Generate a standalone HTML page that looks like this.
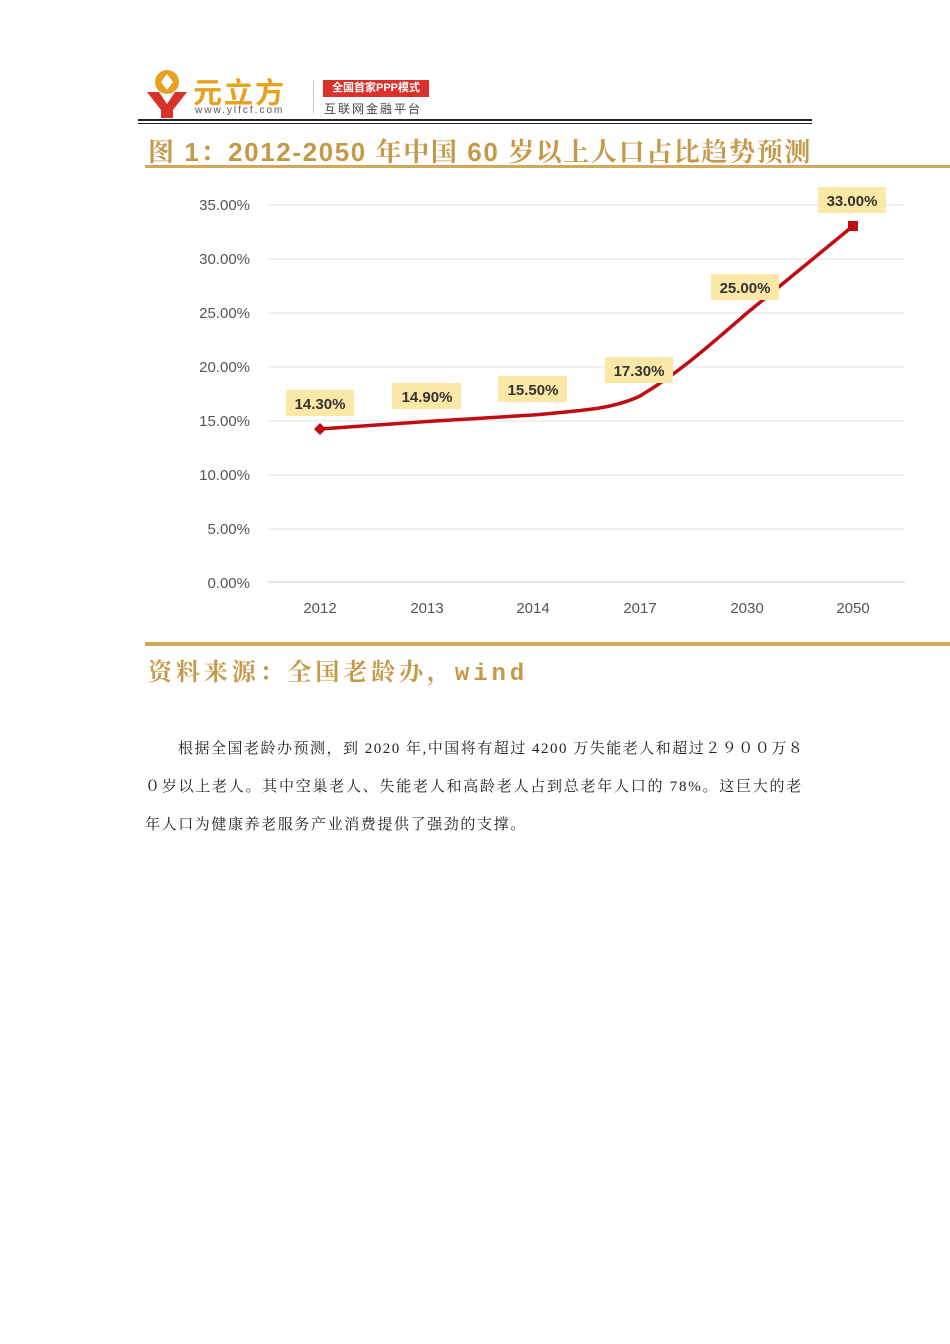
<!DOCTYPE html>
<html><head><meta charset="utf-8"><style>
body{margin:0;background:#fff;width:950px;height:1344px;position:relative;overflow:hidden;font-family:"Liberation Sans","Noto Sans CJK SC",sans-serif}
.a{position:absolute}
.p{position:absolute;left:145px;font-family:"Liberation Serif","Noto Serif CJK SC",serif;font-size:15px;color:#222;white-space:nowrap}
</style></head><body>
<!-- logo -->
<svg class="a" style="left:145px;top:68px" width="50" height="52" viewBox="0 0 50 52">
<circle cx="22" cy="14" r="12" fill="#e8a020"/><path d="M22 6 L28 14 L22 22 L16 14Z" fill="#fff"/>
<path d="M2 24 L14 24 L22 36 L30 24 L42 24 L28 42 L28 50 L16 50 L16 42Z" fill="#d9322a"/>
</svg>
<div class="a" style="left:193px;top:70px;font-size:29px;font-weight:bold;color:#e8a020;letter-spacing:2px">元立方</div>
<div class="a" style="left:195px;top:105px;font-size:10px;color:#555;letter-spacing:2px">www.ylfcf.com</div>
<div class="a" style="left:313px;top:80px;width:1px;height:34px;background:#ccc"></div>
<div class="a" style="left:323px;top:80px;width:106px;height:17px;background:#d9322a;color:#fff;font-size:11px;font-weight:bold;line-height:17px;text-align:center">全国首家PPP模式</div>
<div class="a" style="left:324px;top:100px;font-size:12px;color:#444;letter-spacing:2px">互联网金融平台</div>
<div class="a" style="left:138px;top:119px;width:674px;height:2px;background:#222"></div>
<div class="a" style="left:138px;top:123px;width:674px;height:1px;background:#222"></div>
<!-- title -->
<div class="a" style="left:148px;top:132px;font-size:26px;font-weight:bold;color:#c49a4a;font-family:'Liberation Sans','Noto Serif CJK SC',sans-serif;white-space:nowrap;letter-spacing:1.6px">图 1：2012-2050 年中国 60 岁以上人口占比趋势预测</div>
<div class="a" style="left:145px;top:165px;width:805px;height:3px;background:#d2a85a"></div>
<!-- chart -->
<svg class="a" style="left:0;top:0" width="950" height="640">
<g stroke="#e0e0e0" stroke-width="1">
<line x1="268" x2="905" y1="205" y2="205"/><line x1="268" x2="905" y1="259" y2="259"/>
<line x1="268" x2="905" y1="313" y2="313"/><line x1="268" x2="905" y1="367" y2="367"/>
<line x1="268" x2="905" y1="421" y2="421"/><line x1="268" x2="905" y1="475" y2="475"/>
<line x1="268" x2="905" y1="529" y2="529"/><line x1="268" x2="905" y1="582" y2="582" stroke="#ccc"/>
</g>
<g font-family="Liberation Sans,sans-serif" font-size="15" fill="#555" text-anchor="end">
<text x="250" y="210">35.00%</text><text x="250" y="264">30.00%</text><text x="250" y="318">25.00%</text>
<text x="250" y="372">20.00%</text><text x="250" y="426">15.00%</text><text x="250" y="480">10.00%</text>
<text x="250" y="534">5.00%</text><text x="250" y="588">0.00%</text>
</g>
<g font-family="Liberation Sans,sans-serif" font-size="15" fill="#555" text-anchor="middle">
<text x="320" y="613">2012</text><text x="427" y="613">2013</text><text x="533" y="613">2014</text>
<text x="640" y="613">2017</text><text x="747" y="613">2030</text><text x="853" y="613">2050</text>
</g>
<path d="M320 429 L427 421.5 L533 415 C590 410 615 408 640 396 C680 372 710 345 747 313 L853 226" fill="none" stroke="#c00d14" stroke-width="3.5" stroke-linejoin="round"/>
<path d="M320 423 L326 429 L320 435 L314 429Z" fill="#c00d14"/>
<rect x="848" y="221" width="10" height="10" fill="#c00d14"/>
<g fill="#fbe8a6">
<rect x="286" y="390" width="68" height="26"/><rect x="392" y="383" width="69" height="26"/>
<rect x="498" y="376" width="69" height="26"/><rect x="605" y="357" width="68" height="26"/>
<rect x="711" y="274" width="68" height="26"/><rect x="818" y="187" width="68" height="26"/>
</g>
<g font-family="Liberation Sans,sans-serif" font-size="15" font-weight="bold" fill="#333" text-anchor="middle">
<text x="320" y="409">14.30%</text><text x="427" y="402">14.90%</text><text x="533" y="395">15.50%</text>
<text x="639" y="376">17.30%</text><text x="745" y="293">25.00%</text><text x="852" y="206">33.00%</text>
</g>
</svg>
<div class="a" style="left:145px;top:642px;width:805px;height:4px;background:#d2a85a"></div>
<div class="a" style="left:148px;top:652px;font-size:24px;font-weight:bold;color:#c49a4a;font-family:'Liberation Mono','Noto Serif CJK SC',monospace;white-space:nowrap;letter-spacing:3.9px">资料来源：全国老龄办，wind</div>
<!-- paragraph -->
<div class="p" style="top:737px;left:178px;letter-spacing:1.5px">根据全国老龄办预测，到 2020 年,中国将有超过 4200 万失能老人和超过２９００万８</div>
<div class="p" style="top:775px;letter-spacing:1.75px">０岁以上老人。其中空巢老人、失能老人和高龄老人占到总老年人口的 78%。这巨大的老</div>
<div class="p" style="top:813px;letter-spacing:1.6px">年人口为健康养老服务产业消费提供了强劲的支撑。</div>
</body></html>
